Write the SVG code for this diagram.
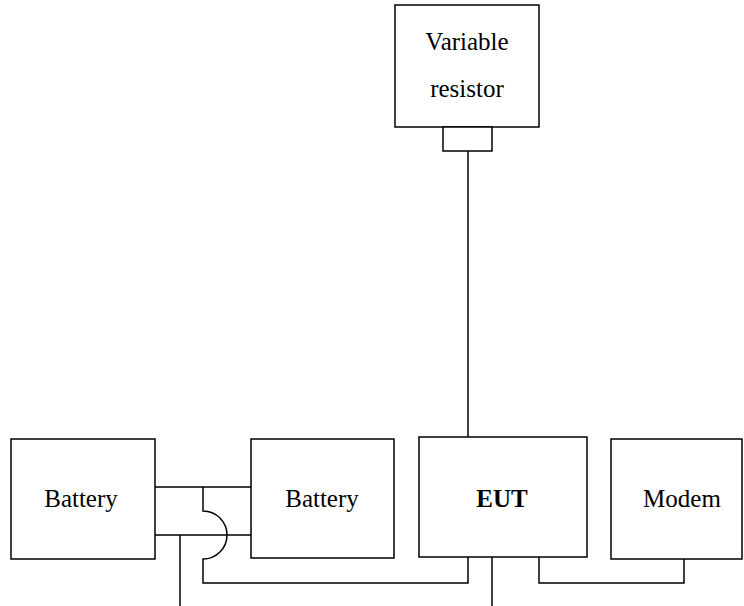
<svg xmlns="http://www.w3.org/2000/svg" width="744" height="606" viewBox="0 0 744 606">
<style>
.b{fill:#fff;stroke:#000;stroke-width:1.5}
.l{fill:none;stroke:#000;stroke-width:1.5}
.t{font-family:'Liberation Serif',serif;font-size:25px;fill:#000;text-anchor:middle}
</style>
<rect width="744" height="606" fill="#fff"/>
<g id="connectors">
<path class="l" d="M468 151V438"/>
<path class="l" d="M155 487H251M155 535H251"/>
<path class="l" d="M203 487V511A24 24 0 0 1 203 559V583H468V557"/>
<path class="l" d="M180 535V606"/>
<path class="l" d="M492 557V606"/>
<path class="l" d="M539 557V583H684V559"/>
</g>
<g id="variable-resistor">
<rect class="b" x="395" y="5" width="144" height="122"/>
<rect class="b" x="443" y="127" width="49" height="24"/>
<text class="t" x="467" y="50">Variable</text>
<text class="t" x="467" y="97">resistor</text>
</g>
<g id="battery1">
<rect class="b" x="11" y="439" width="144" height="120"/>
<text class="t" x="81" y="507">Battery</text>
</g>
<g id="battery2">
<rect class="b" x="251" y="439" width="143" height="119"/>
<text class="t" x="322" y="507">Battery</text>
</g>
<g id="eut">
<rect class="b" x="419" y="437" width="168" height="120"/>
<text class="t" x="502" y="507" font-weight="bold">EUT</text>
</g>
<g id="modem">
<rect class="b" x="611" y="439" width="131" height="120"/>
<text class="t" x="682" y="507">Modem</text>
</g>
</svg>
